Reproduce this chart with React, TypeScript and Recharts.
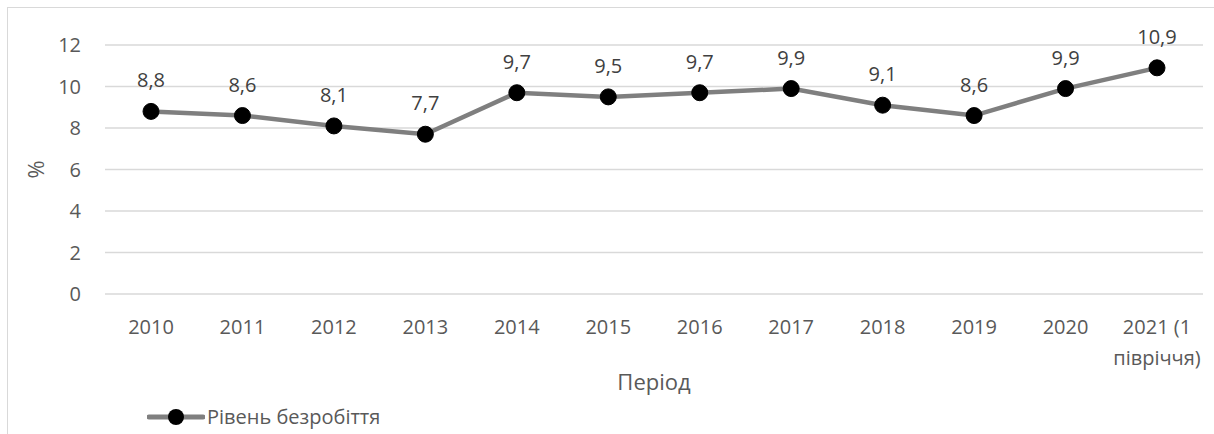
import React from 'react';
import { LineChart, Line, XAxis, YAxis, CartesianGrid, LabelList, Legend, Text } from 'recharts';

const categories = ['2010', '2011', '2012', '2013', '2014', '2015', '2016', '2017', '2018', '2019', '2020', '2021 (1 півріччя)'];
const unemployment = [8.8, 8.6, 8.1, 7.7, 9.7, 9.5, 9.7, 9.9, 9.1, 8.6, 9.9, 10.9];
const yTicks = [0, 2, 4, 6, 8, 10, 12];
const seriesName = 'Рівень безробіття';
const xTitle = 'Період';
const yTitle = '%';

const data = categories.map((c, i) => ({ period: c, value: unemployment[i] }));

const FONT = '"Open Sans", sans-serif';
const TEXT = '#595959';

const XTick = (props: any) => {
  const { x, y, payload } = props;
  return (
    <Text
      x={x}
      y={y + 18}
      width={90}
      textAnchor="middle"
      verticalAnchor="start"
      lineHeight={31}
      fontFamily={FONT}
      fontSize={20}
      fill={TEXT}
    >
      {payload.value}
    </Text>
  );
};

const LegendContent = () => (
  <div style={{ display: 'flex', alignItems: 'center', fontFamily: FONT, fontSize: 20, color: TEXT, whiteSpace: 'nowrap' }}>
    <svg width={58} height={20} style={{ display: 'block' }}>
      <line x1={2} y1={10} x2={56} y2={10} stroke="#7f7f7f" strokeWidth={5} strokeLinecap="round" />
      <circle cx={29} cy={10} r={8} fill="#000" />
    </svg>
    <span style={{ marginLeft: 2 }}>{seriesName}</span>
  </div>
);

export default function App() {
  return (
    <div style={{ position: 'absolute', left: 0, top: 0, width: 1214, height: 434, overflow: 'hidden', background: '#fff' }}>
      <div style={{ position: 'absolute', left: 7, top: 7, width: 1400, height: 800, border: '1px solid #d9d9d9', boxSizing: 'border-box' }} />
      <div style={{ position: 'absolute', left: 0, top: 0 }}>
        <LineChart width={1214} height={434} data={data} margin={{ top: 45, right: 11, left: 45, bottom: 40 }}>
          <CartesianGrid vertical={false} stroke="#d9d9d9" strokeWidth={1.5} />
          <XAxis
            dataKey="period"
            height={100}
            axisLine={false}
            tickLine={false}
            interval={0}
            padding={{ left: 46, right: 46 }}
            tick={<XTick />}
            label={{
              content: (p: any) => {
                const vb = p.viewBox;
                return (
                  <text x={vb.x + vb.width / 2} y={vb.y + 96} textAnchor="middle" fontFamily={FONT} fontSize={22} fill={TEXT}>
                    {xTitle}
                  </text>
                );
              },
            }}
          />
          <YAxis
            width={60}
            domain={[0, 12]}
            ticks={yTicks}
            axisLine={false}
            tickLine={false}
            tickSize={0}
            tickMargin={24}
            tick={{ fontFamily: FONT, fontSize: 20, fill: TEXT }}
            label={{
              content: (p: any) => {
                const vb = p.viewBox;
                const cx = 35;
                const cy = vb.y + vb.height / 2;
                return (
                  <text x={cx} y={cy} transform={`rotate(-90 ${cx} ${cy})`} textAnchor="middle" dominantBaseline="central" fontFamily={FONT} fontSize={22} fill={TEXT}>
                    {yTitle}
                  </text>
                );
              },
            }}
          />
          <Legend
            layout="vertical"
            align="center"
            verticalAlign="middle"
            content={<LegendContent />}
            wrapperStyle={{ left: 147, top: 403, width: 300 }}
          />
          <Line
            type="linear"
            dataKey="value"
            name={seriesName}
            stroke="#7f7f7f"
            strokeWidth={4.5}
            dot={{ r: 8, fill: '#000', stroke: '#000', strokeWidth: 1 }}
            activeDot={false}
            isAnimationActive={false}
          >
            <LabelList
              dataKey="value"
              position="top"
              offset={24}
              formatter={(v: any) => String(v).replace('.', ',')}
              style={{ fontFamily: FONT, fontSize: 20, fill: '#404040' }}
            />
          </Line>
        </LineChart>
      </div>
    </div>
  );
}
